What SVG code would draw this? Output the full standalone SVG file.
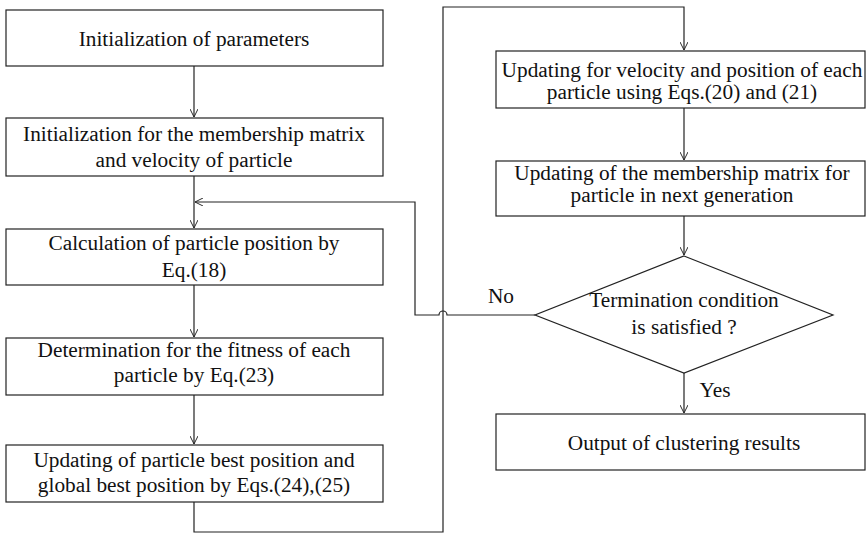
<svg xmlns="http://www.w3.org/2000/svg" width="866" height="533" viewBox="0 0 866 533">
<defs>
<marker id="arr" viewBox="0 0 10 10" refX="10" refY="5" markerWidth="8" markerHeight="8" markerUnits="userSpaceOnUse" orient="auto">
<path d="M0,0 L10,5 L0,10" fill="none" stroke="#222" stroke-width="1.2"/>
</marker>
</defs>
<style>
.box{fill:#fff;stroke:#222;stroke-width:1.2}
.t{font-family:'Liberation Serif','Times New Roman',serif;font-size:21.3px;fill:#111;text-anchor:middle}
.c{fill:none;stroke:#222;stroke-width:1.2}
</style>
<rect width="866" height="533" fill="#fff"/>
<g id="connectors">
<path class="c" d="M194,66 V117" marker-end="url(#arr)"/>
<path class="c" d="M194,176 V228" marker-end="url(#arr)"/>
<path class="c" d="M194,285 V337" marker-end="url(#arr)"/>
<path class="c" d="M194,395 V444" marker-end="url(#arr)"/>
<path class="c" d="M194,502 V532 H443 V7 H684 V50" marker-end="url(#arr)"/>
<path class="c" d="M684,108 V160" marker-end="url(#arr)"/>
<path class="c" d="M684,216 V255" marker-end="url(#arr)"/>
<path class="c" d="M684,373 V413" marker-end="url(#arr)"/>
<path class="c" d="M535,315 H447 A4,4 0 0 0 439,315 H415 V202 H195" marker-end="url(#arr)"/>
</g>
<g id="n1"><rect class="box" x="6" y="10" width="377" height="56"/><text class="t" x="194" y="46">Initialization of parameters</text></g>
<g id="n2"><rect class="box" x="6" y="118" width="377" height="58"/><text class="t" x="194" y="140.5">Initialization for the membership matrix</text><text class="t" x="194" y="166.5">and velocity of particle</text></g>
<g id="n3"><rect class="box" x="6" y="229" width="377" height="56"/><text class="t" x="194" y="250">Calculation of  particle position by</text><text class="t" x="194" y="276.5">Eq.(18)</text></g>
<g id="n4"><rect class="box" x="6" y="338" width="377" height="57"/><text class="t" x="194" y="356.5">Determination for  the fitness of each</text><text class="t" x="194" y="381.5">particle by Eq.(23)</text></g>
<g id="n5"><rect class="box" x="6" y="445" width="377" height="57"/><text class="t" x="194" y="466.5">Updating of particle best position and</text><text class="t" x="194" y="491.5">global best position by Eqs.(24),(25)</text></g>
<g id="r1"><rect class="box" x="496" y="51" width="369" height="57"/><text class="t" x="682" y="76.5">Updating for velocity and position of each</text><text class="t" x="682" y="98.5">particle using Eqs.(20) and (21)</text></g>
<g id="r2"><rect class="box" x="496" y="161" width="369" height="55"/><text class="t" x="682" y="180">Updating of the membership matrix for</text><text class="t" x="682" y="202">particle in next generation</text></g>
<g id="d1"><polygon class="box" points="684,256 833,315 684,373 535,315"/><text class="t" x="684" y="306.5">Termination condition</text><text class="t" x="684" y="333.5">is satisfied ?</text></g>
<g id="r3"><rect class="box" x="496" y="414" width="369" height="56"/><text class="t" x="684" y="450">Output of clustering results</text></g>
<text class="t" x="501" y="303">No</text>
<text class="t" x="715" y="397">Yes</text>
</svg>
